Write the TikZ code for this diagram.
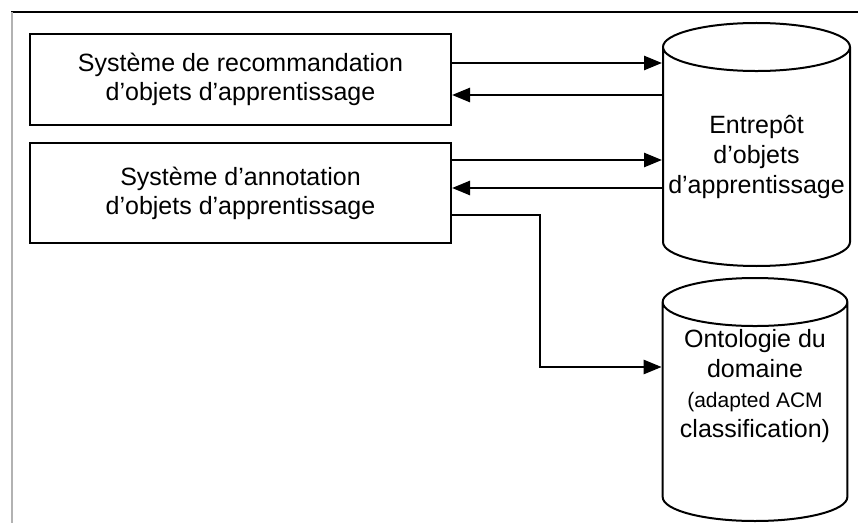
\documentclass[tikz,border=0pt]{standalone}
\usepackage{fontspec}
\setmainfont{Liberation Sans}
\usetikzlibrary{arrows.meta, positioning, shapes.geometric}

\begin{document}
\begin{tikzpicture}[x=1pt, y=1pt,
box/.style={rectangle, draw, line width=2pt, align=center, font=\fontsize{25}{29}\selectfont, minimum width=421pt, minimum height=91pt},
store/.style={cylinder, shape border rotate=90, draw, line width=2pt, aspect=0.26, anchor=north, text width=178pt},
storetext/.style={align=center, font=\fontsize{25}{30}\selectfont},
arrow/.style={-{Triangle[length=18pt, width=14pt]}, line width=2.6pt},
backarrow/.style={{Triangle[length=18pt, width=14pt]}-, line width=2.6pt}
]
\useasboundingbox (0,0) rectangle (858,523);
% frame
\draw[line width=2pt] (11,511) -- (858,511);
\draw[gray!60, line width=2pt] (12,511) -- (12,0);

\node[box] (rec) at (240.5,443.5) {Système de recommandation\\d'objets d'apprentissage};
\node[box, below=16pt of rec, minimum height=100pt] (ann) {Système d'annotation\\d'objets d'apprentissage};

% cylinders
\node[store, minimum width=187pt, minimum height=243pt] (repo) at (756.5,501) {};
\node[storetext] (repotxt) at (756.5,366) {Entrepôt\\d'objets\\d'apprentissage};
\node[store, minimum width=184pt, minimum height=243pt] (onto) at (755,246) {};
\node[storetext] (ontotxt) at (755,136.5) {Ontologie du\\domaine\\\fontsize{21}{27}\selectfont (adapted ACM\\classification)};

\draw[arrow] ([yshift=16.5pt]rec.east) coordinate (r1) -- (r1 -| repo.west);
\draw[backarrow] ([yshift=-15.5pt]rec.east) coordinate (r2) -- (r2 -| repo.west);
\draw[arrow] ([yshift=33pt]ann.east) coordinate (a1) -- (a1 -| repo.west);
\draw[backarrow] ([yshift=5pt]ann.east) coordinate (a2) -- (a2 -| repo.west);
\coordinate (bend) at (540,156);
\draw[arrow] ([yshift=-22pt]ann.east) -| (bend) -- (bend -| onto.west);
\end{tikzpicture}
\end{document}
